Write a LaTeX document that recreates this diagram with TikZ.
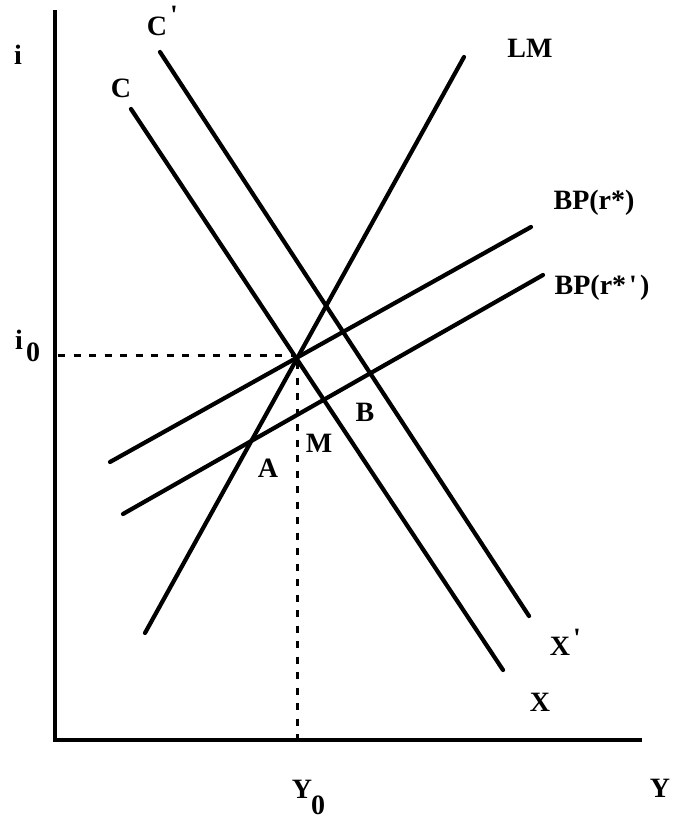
\documentclass[tikz,border=0pt]{standalone}
\usepackage{fontspec}
\setmainfont{Liberation Serif}
\begin{document}
\begin{tikzpicture}[x=1pt,y=-1pt,
  curve/.style={line width=4.2pt, line cap=round},
  axis/.style={line width=4pt},
  guide/.style={line width=3pt, dash pattern=on 7pt off 8.5pt},
  lab/.style={font=\fontsize{28}{32}\selectfont\bfseries, inner sep=0pt, anchor=center}]
\useasboundingbox (0,0) rectangle (685,821);
% axes
\coordinate (ytop) at (55,10);
\coordinate (O) at (55,740);
\coordinate (xend) at (642,740);
\draw[axis] (ytop) -- (O) -- (xend);
% curve end points
\coordinate (LMa) at (145,633); \coordinate (LMb) at (464,57);
\coordinate (Ca) at (131,109);  \coordinate (Cb) at (503,670);
\coordinate (CPa) at (160,52);  \coordinate (CPb) at (529,616);
\coordinate (BPa) at (110,462); \coordinate (BPb) at (531,227);
\coordinate (BQa) at (123,514); \coordinate (BQb) at (543,275);
\draw[curve] (LMa) -- (LMb);
\draw[curve] (Ca) -- (Cb);
\draw[curve] (CPa) -- (CPb);
\draw[curve] (BPa) -- (BPb);
\draw[curve] (BQa) -- (BQb);
% equilibrium guides
\coordinate (i0) at (58,355);
\coordinate (E) at (295,355);
\coordinate (Ev) at (297,362);
\coordinate (y0) at (297,740);
\draw[guide] (i0) -- (E);
\draw[guide] (Ev) -- (y0);
% labels
\node[lab] (li) at (18,55) {i};
\node[lab] (li0) at (19,340) {i};
\node[lab] (li0s) at (33,352) {0};
\node[lab] (lY0) at (302,789) {Y};
\node[lab] (lY0s) at (318,805) {0};
\node[lab] (lY) at (660,788) {Y};
\node[lab] (lX) at (540,702) {X};
\node[lab] (lXP) at (560,646) {X};
\node[lab] (lXPp) at (577,638) {\textquotesingle};
\node[lab] (lC) at (121,88) {C};
\node[lab] (lCP) at (157,26) {C};
\node[lab] (lCPp) at (174,15) {\textquotesingle};
\node[lab] (lLM) at (530,48) {LM};
\node[lab] (lBP) at (594,203) {BP(r*)};
\node[lab] (lBQ) at (602,288) {BP(r*\hspace{3pt}\textquotesingle\hspace{3pt})};
\node[lab] (lA) at (268,468) {A};
\node[lab] (lM) at (319,443) {M};
\node[lab] (lB) at (365,412) {B};
\end{tikzpicture}
\end{document}
